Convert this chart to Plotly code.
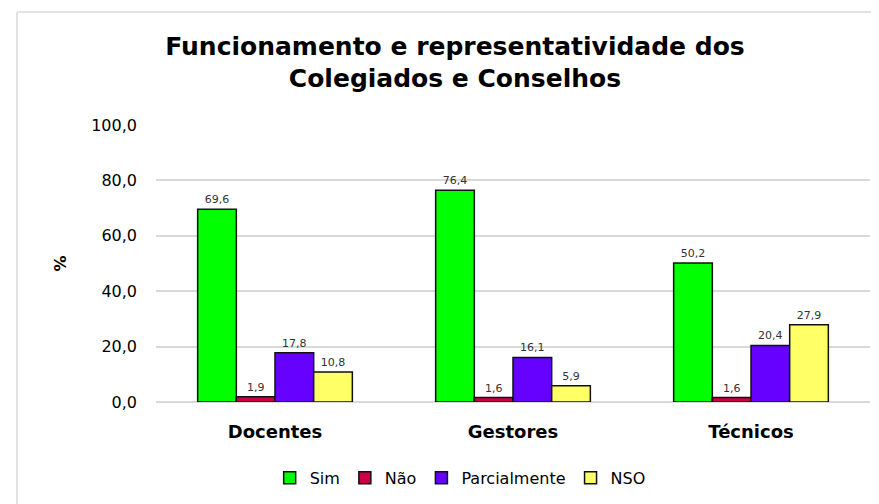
import plotly.graph_objects as go

categories = ["Docentes", "Gestores", "Técnicos"]
series_names = ["Sim", "Não", "Parcialmente", "NSO"]
sim = [69.6, 76.4, 50.2]
nao = [1.9, 1.6, 1.6]
parcialmente = [17.8, 16.1, 20.4]
nso = [10.8, 5.9, 27.9]
colors = ["#00FF00", "#CC0044", "#6600FF", "#FFFF66"]
y_ticks = [0, 20, 40, 60, 80, 100]

FONT = "DejaVu Sans, Liberation Sans, Arial"

L, T, PW, PH = 148, 117, 714, 277
W, H = 879, 504
R = W - L - PW
B = H - T - PH

fig = go.Figure()
for name, vals, col in zip(series_names, [sim, nao, parcialmente, nso], colors):
    fig.add_trace(go.Bar(
        x=categories, y=vals, name=name,
        marker=dict(color=col, line=dict(color="#111111", width=1.5)),
        texttemplate="%{y:.1f}", textposition="outside",
        textfont=dict(family=FONT, size=11, color="#333333"),
        cliponaxis=False,
    ))

fig.update_layout(
    width=W, height=H,
    separators=",.",
    barmode="group", bargap=0.35, bargroupgap=0,
    paper_bgcolor="white", plot_bgcolor="white",
    margin=dict(l=L, r=R, t=T, b=B),
    title=dict(
        text="<b>Funcionamento e representatividade dos<br>Colegiados e Conselhos</b>",
        x=0.5085, xanchor="center", y=0.907, yanchor="top",
        font=dict(family=FONT, size=25, color="#000000"),
    ),
    font=dict(family=FONT, color="#000000"),
    xaxis=dict(
        tickfont=dict(family=FONT, size=18, color="#000000"),
        tickvals=categories,
        ticktext=["<b>%s</b>" % c for c in categories],
        showline=False, ticks="",
        ticklabelstandoff=17,
    ),
    yaxis=dict(
        range=[0, 100], tickvals=y_ticks, tickformat=".1f",
        showgrid=True, gridcolor="#D9D9D9", gridwidth=1.5,
        zeroline=True, zerolinecolor="#D9D9D9", zerolinewidth=1.5,
        tickfont=dict(family=FONT, size=16, color="#000000"),
        ticklabelstandoff=18,
        title=dict(text="<b>%</b>", font=dict(family=FONT, size=16), standoff=20),
    ),
    legend=dict(
        orientation="h", x=0.426, xanchor="center", y=-0.274, yanchor="middle",
        font=dict(family=FONT, size=16, color="#000000"),
        itemwidth=30, traceorder="normal",
    ),
    showlegend=True,
)

# light frame (left and top edges)
fx = (9 - L) / PW
fy = 1 + (T - 4) / PH
fig.add_shape(type="line", xref="paper", yref="paper",
              x0=fx, x1=fx, y0=-B / PH, y1=fy,
              line=dict(color="#E3E3E3", width=2))
fig.add_shape(type="line", xref="paper", yref="paper",
              x0=fx, x1=(W - L) / PW, y0=fy, y1=fy,
              line=dict(color="#E3E3E3", width=2))

fig.write_html("out.html")
